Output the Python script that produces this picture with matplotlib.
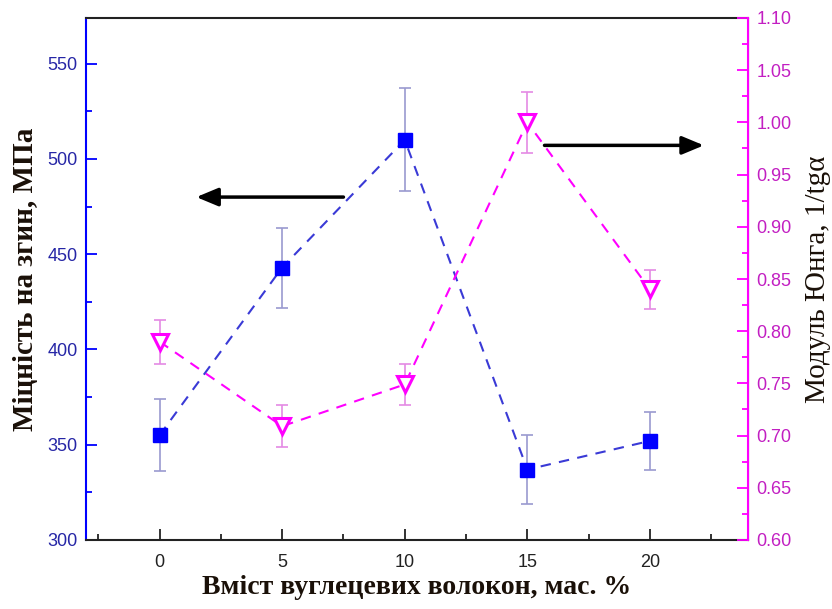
import matplotlib.pyplot as plt
import numpy as np

# вміст вуглецевих волокон, мас. %
fiber = [0, 5, 10, 15, 20]

# міцність на згин, МПа (ліва вісь)
strength = [355, 443, 510, 337, 352]
strength_err = [19, 21, 27, 18, 15]

# модуль Юнга, 1/tgα (права вісь)
modulus = [0.79, 0.709, 0.749, 1.00, 0.840]
modulus_err = [0.021, 0.020, 0.020, 0.029, 0.019]

left_ticks = [300, 350, 400, 450, 500, 550]
right_ticks = [0.60, 0.65, 0.70, 0.75, 0.80, 0.85, 0.90, 0.95, 1.00, 1.05, 1.10]

blue = '#0000ff'
blue_txt = '#2626a6'
magenta = '#ff00ff'
magenta_txt = '#c21fc2'

plt.rcParams['font.family'] = ['Liberation Sans', 'DejaVu Sans']

fig = plt.figure(figsize=(8.32, 6.09), dpi=100)
ax = fig.add_axes([86 / 832, 69 / 609, 662 / 832, 522 / 609])
ax2 = ax.twinx()

# ліва серія
ax.errorbar(fiber, strength, yerr=strength_err, fmt='none', ecolor='#9a9ad0',
            elinewidth=1.2, capsize=4, capthick=1.2, zorder=2)
ax.plot(fiber, strength, '--', color='#3a3ad6', lw=1.5, dashes=(5, 4), zorder=3)
ax.plot(fiber, strength, 's', color=blue, ms=10, zorder=4)

# права серія
ax2.errorbar(fiber, modulus, yerr=modulus_err, fmt='none', ecolor='#e48ae4',
             elinewidth=1.2, capsize=4, capthick=1.2, zorder=2)
ax2.plot(fiber, modulus, '--', color=magenta, lw=1.5, dashes=(5, 4), zorder=3)
ax2.plot(fiber, modulus, 'v', mfc='white', mec=magenta, mew=2.2, ms=12, zorder=4)

ax.set_xlim(-3, 24)
ax.set_ylim(300, 574)
ax2.set_ylim(0.60, 1.10)

ax.set_xticks(fiber)
ax.set_xticks([-2.5, 2.5, 7.5, 12.5, 17.5, 22.5], minor=True)
ax.set_yticks(left_ticks)
ax.set_yticks([325, 375, 425, 475, 525], minor=True)
ax2.set_yticks(right_ticks)
ax2.set_yticks(np.arange(0.625, 1.10, 0.05), minor=True)

ax.tick_params(axis='x', which='major', direction='in', length=8, width=1.3,
               labelsize=13, pad=10, color='#222222', labelcolor='#222222')
ax.tick_params(axis='x', which='minor', direction='in', length=4, width=1.3, color='#222222')
ax.tick_params(axis='y', which='major', direction='in', length=8, width=1.3,
               labelsize=13, color=blue, labelcolor=blue_txt, pad=6)
ax.tick_params(axis='y', which='minor', direction='in', length=4, width=1.3, color=blue)
ax2.tick_params(axis='y', which='major', direction='in', length=8, width=1.3,
                labelsize=13, color=magenta, labelcolor=magenta_txt, pad=6)
ax2.tick_params(axis='y', which='minor', direction='in', length=4, width=1.3, color=magenta)

for s in ['top', 'bottom']:
    ax.spines[s].set_color('#222222')
    ax.spines[s].set_linewidth(1.5)
ax.spines['left'].set_color(blue)
ax.spines['left'].set_linewidth(1.5)
ax2.spines['right'].set_color(magenta)
ax2.spines['right'].set_linewidth(1.5)
ax2.spines['left'].set_visible(False)
ax2.spines['top'].set_visible(False)
ax2.spines['bottom'].set_visible(False)

# стрілки
ax.annotate('', xy=(1.5, 480), xytext=(7.5, 480),
            arrowprops=dict(arrowstyle='-|>,head_length=0.6,head_width=0.25',
                            color='black', lw=2.5, mutation_scale=22,
                            shrinkA=0, shrinkB=0))
ax2.annotate('', xy=(22.2, 0.978), xytext=(15.7, 0.978),
             arrowprops=dict(arrowstyle='-|>,head_length=0.6,head_width=0.25',
                             color='black', lw=2.5, mutation_scale=22,
                             shrinkA=0, shrinkB=0))

serif = ['Liberation Serif', 'DejaVu Serif']
ax.set_xlabel('Вміст вуглецевих волокон, мас. %', family=serif, fontsize=20,
              fontweight='bold', color='#1a1008', labelpad=3)
ax.set_ylabel('Міцність на згин, МПа', family=serif, fontsize=21,
              fontweight='bold', color='#1a1008', labelpad=6)
ax2.set_ylabel('Модуль Юнга, 1/tgα', family=serif, fontsize=21,
               color='#1a1008', labelpad=10)

fig.savefig('out.png', dpi=100)
